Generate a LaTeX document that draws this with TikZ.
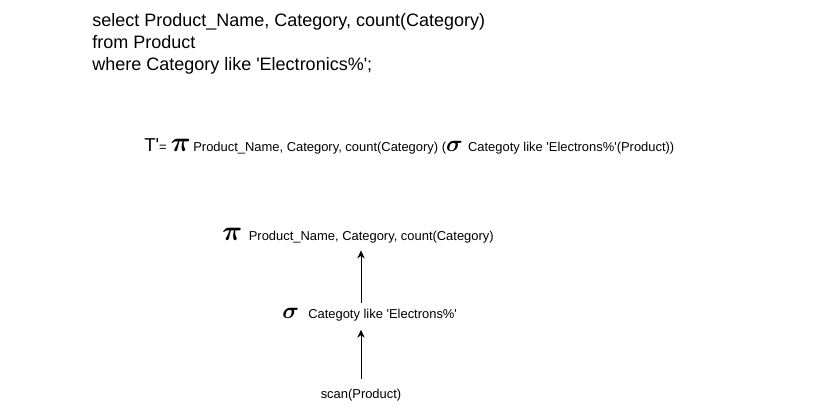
\documentclass[tikz,border=0pt]{standalone}
\usepackage{fontspec}
\setmainfont{Liberation Sans}
\usetikzlibrary{arrows.meta}

\newcommand{\sq}{\textquotesingle}
\newcommand{\opsym}[2][21]{{\fontsize{#1}{#1}\selectfont\boldmath$#2$}}

\begin{document}
\begin{tikzpicture}[x=0.75pt, y=-0.75pt,
  sql/.style={align=left, font=\fontsize{13.5}{16.5}\selectfont, inner sep=0pt},
  expr/.style={font=\fontsize{9.7}{11}\selectfont, inner sep=0pt},
  op/.style={font=\fontsize{9.7}{10}\selectfont, inner sep=0pt},
  arr/.style={-{Stealth[length=6pt, width=5.5pt]}, line width=0.75pt, draw=black}
]
  \useasboundingbox (0,0) rectangle (821,411);

  % ========== SQL query ==========
  \node[sql, anchor=west] (query) at (92,44) {
    select Product\_Name, Category, count(Category)\\
    from Product\\
    where Category like \sq Electronics\%\sq;
  };

  % ========== Relational algebra ==========
  \node[expr, anchor=west] (formula) at (144,146) {
    {\fontsize{14}{15}\selectfont T\sq}=\hspace{3pt}\opsym{\pi}\hspace{2pt}Product\_Name,
    Category, count(Category) (\opsym[17]{\sigma}\hspace{4pt}Categoty like
    \sq Electrons\%\sq(Product))
  };

  % ========== Query tree ==========
  \node[op, anchor=west] (proj) at (222,236)
    {\opsym{\pi}\hspace{5pt}Product\_Name, Category, count(Category)};
  \node[op, anchor=west] (sel) at (282,315)
    {\opsym[19]{\sigma}\hspace{7pt}Categoty like \sq Electrons\%\sq};
  \node[op] (scan) at (361,395) {scan(Product)};

  % ======== ARROWS ========
  \draw[arr, shorten <=7pt, shorten >=6pt] (scan.north) -- (scan.north |- sel.south);
  \draw[arr, shorten <=4pt, shorten >=5pt] (scan.north |- sel.north) -- (scan.north |- proj.south);

\end{tikzpicture}
\end{document}
